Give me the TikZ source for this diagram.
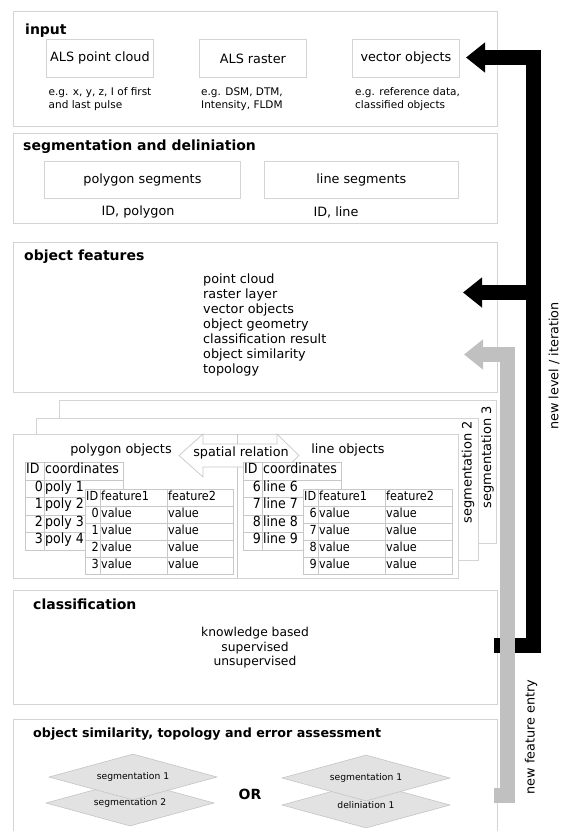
\documentclass[tikz,border=0pt]{standalone}
\usepackage{fontspec}
\setmainfont{DejaVu Sans}
\newfontfamily\condfam{DejaVu Sans Condensed}
\usetikzlibrary{arrows.meta,shapes.geometric}
\definecolor{pgray}{HTML}{D4D4D4}
\definecolor{tgray}{HTML}{C8C8C8}
\definecolor{agray}{HTML}{C0C0C0}
\definecolor{dfill}{HTML}{E2E2E2}
\definecolor{ddraw}{HTML}{C4C4C4}
\newcommand\myreg{\fontsize{12.8}{15}\selectfont}
\newcommand\mytitle{\fontsize{14}{16}\selectfont\bfseries}
\newcommand\mytitleb{\fontsize{12.7}{15}\selectfont\bfseries}
\newcommand\mysmall{\fontsize{10.5}{13}\selectfont}
\newcommand\mytabA{\condfam\fontsize{14}{16}\selectfont}
\newcommand\mytabB{\condfam\fontsize{12.5}{15}\selectfont}
\newcommand\mydia{\fontsize{9.2}{11}\selectfont}
\begin{document}
\begin{tikzpicture}[x=1pt,y=-1pt,
 panel/.style={draw=pgray,line width=0.8pt,fill=white,inner sep=0pt,anchor=north west},
 ibox/.style={draw=pgray,line width=0.8pt,fill=white,inner sep=0pt,anchor=north west,font=\myreg},
 lbl/.style={font=\myreg,inner sep=0pt},
 ttl/.style={font=\mytitle,anchor=west,inner sep=0pt},
 small/.style={font=\mysmall,align=left,anchor=west,inner sep=0pt},
 tline/.style={draw=tgray,line width=0.7pt},
 ca/.style={font=\mytabA,inner sep=0.5pt},
 cb/.style={font=\mytabB,inner sep=0.5pt},
 dia/.style={diamond,aspect=3.65,draw=ddraw,fill=dfill,line width=0.6pt,inner sep=0pt,minimum width=168pt,minimum height=46pt,font=\mydia},
 blk/.style={line width=15pt,line join=miter,-{Triangle[length=19pt,width=29pt]}},
]
\useasboundingbox[fill=white] (0,0) rectangle (562,831);

% ---------- input ----------
\node[panel,minimum width=484pt,minimum height=115pt] (input) at (12.5,10.5) {};
\node[ttl] (tin) at (25,31) {input};
\node[ibox,minimum width=107pt,minimum height=38pt] (als1) at (46,39) {ALS point cloud};
\node[ibox,minimum width=107pt,minimum height=38pt] (als2) at (199,39) {ALS raster};
\node[ibox,minimum width=107pt,minimum height=38pt] (vec) at (352,39) {vector objects};
\node[small] (eg1) at (48.5,99) {e.g. x, y, z, I of first\\and last pulse};
\node[small] (eg2) at (201,99) {e.g. DSM, DTM,\\Intensity, FLDM};
\node[small] (eg3) at (355,99) {e.g. reference data,\\classified objects};

% ---------- segmentation ----------
\node[panel,minimum width=484pt,minimum height=90pt] (seg) at (12.5,133) {};
\node[ttl] (tseg) at (23,147) {segmentation and deliniation};
\node[ibox,minimum width=196pt,minimum height=37pt] (pseg) at (44,161) {polygon segments};
\node[ibox,minimum width=194pt,minimum height=37pt] (lseg) at (264,161) {line segments};
\node[lbl] (idp) at (138,212) {ID, polygon};
\node[lbl] (idl) at (336,212) {ID, line};

% ---------- object features ----------
\node[panel,minimum width=484pt,minimum height=150pt] (objf) at (12.5,242) {};
\node[ttl] (tobjf) at (24,257) {object features};
\node[font=\myreg,align=left,anchor=north west,inner sep=0pt] (flist) at (203,273.5)
 {point cloud\\raster layer\\vector objects\\object geometry\\classification result\\object similarity\\topology};

% ---------- stacked segmentation sheets ----------
\node[panel,minimum width=437pt,minimum height=143pt] (sh3) at (59,400) {};
\node[lbl,font=\fontsize{13}{15}\selectfont,rotate=90,anchor=east] (s3) at (487.5,406) {segmentation 3};
\node[panel,minimum width=442pt,minimum height=142pt] (sh2) at (36,418) {};
\node[lbl,font=\fontsize{13}{15}\selectfont,rotate=90,anchor=east] (s2) at (468,421) {segmentation 2};
\node[panel,minimum width=445pt,minimum height=144pt] (sh1) at (13,434) {};
\coordinate (dvt) at (237,434);
\coordinate (dvb) at (237,578);
\draw[tline] (dvt) -- (dvb);

% spatial relation double arrow
\path[draw=tgray,fill=white,line width=0.7pt] (179,455.5) -- (203,434) -- (203,444) -- (277,444) -- (277,434)
  -- (299,455.5) -- (277,477) -- (277,467) -- (203,467) -- (203,477) -- cycle;
\node[lbl] (spr) at (241,453) {spatial relation};
\node[lbl] (pobj) at (121,450) {polygon objects};
\node[lbl] (lobj) at (348,450) {line objects};

% polygon coordinates table
\draw[tline,fill=white] (25,462) rectangle (123,550);
\draw[tline] (44,462) -- (44,550);
\foreach \y in {480,497.5,515,532.5} \draw[tline] (25,\y) -- (123,\y);
\node[ca,anchor=mid west] (pid) at (25.5,471) {ID};
\node[ca,anchor=mid west] (pco) at (44.5,471) {coordinates};
\foreach \d/\n/\y in {0/1/488.75,1/2/506.25,2/3/523.75,3/4/541.25}{
  \node[ca,anchor=mid east] (pa\d) at (43.5,\y) {\d};
  \node[ca,anchor=mid west] (pb\d) at (44.5,\y) {poly \n};
}
% polygon feature table
\draw[tline,fill=white] (85,489) rectangle (233,574);
\draw[tline] (100,489) -- (100,574);
\draw[tline] (167,489) -- (167,574);
\foreach \y in {506,523,540,557} \draw[tline] (85,\y) -- (233,\y);
\node[cb,anchor=mid west] (qid) at (85.5,497.5) {ID};
\node[cb,anchor=mid west] (qf1) at (100.5,497.5) {feature1};
\node[cb,anchor=mid west] (qf2) at (167.5,497.5) {feature2};
\foreach \d/\y in {0/514.5,1/531.5,2/548.5,3/565.5}{
  \node[cb,anchor=mid east] (qa\d) at (99.5,\y) {\d};
  \node[cb,anchor=mid west] (qb\d) at (100.5,\y) {value};
  \node[cb,anchor=mid west] (qc\d) at (167.5,\y) {value};
}
% line coordinates table
\draw[tline,fill=white] (243,462) rectangle (341,550);
\draw[tline] (262,462) -- (262,550);
\foreach \y in {480,497.5,515,532.5} \draw[tline] (243,\y) -- (341,\y);
\node[ca,anchor=mid west] (lid) at (243.5,471) {ID};
\node[ca,anchor=mid west] (lco) at (262.5,471) {coordinates};
\foreach \d/\y in {6/488.75,7/506.25,8/523.75,9/541.25}{
  \node[ca,anchor=mid east] (la\d) at (261.5,\y) {\d};
  \node[ca,anchor=mid west] (lb\d) at (262.5,\y) {line \d};
}
% line feature table
\draw[tline,fill=white] (303,489) rectangle (452,574);
\draw[tline] (318,489) -- (318,574);
\draw[tline] (385,489) -- (385,574);
\foreach \y in {506,523,540,557} \draw[tline] (303,\y) -- (452,\y);
\node[cb,anchor=mid west] (mid) at (303.5,497.5) {ID};
\node[cb,anchor=mid west] (mf1) at (318.5,497.5) {feature1};
\node[cb,anchor=mid west] (mf2) at (385.5,497.5) {feature2};
\foreach \d/\y in {6/514.5,7/531.5,8/548.5,9/565.5}{
  \node[cb,anchor=mid east] (ma\d) at (317.5,\y) {\d};
  \node[cb,anchor=mid west] (mb\d) at (318.5,\y) {value};
  \node[cb,anchor=mid west] (mc\d) at (385.5,\y) {value};
}

% ---------- classification ----------
\node[panel,minimum width=484pt,minimum height=114pt] (cls) at (12.5,590) {};
\node[ttl] (tcls) at (33,604) {classification};
\node[font=\fontsize{12.3}{14.5}\selectfont,align=center,inner sep=0pt] (clist) at (255,648)
 {knowledge based\\supervised\\unsupervised};

% ---------- object similarity ----------
\node[panel,minimum width=484pt,minimum height=130pt] (osim) at (12.5,719) {};
\node[ttl,font=\mytitleb] (tosim) at (33,734) {object similarity, topology and error assessment};
\node[dia] (d2) at (130,803) {segmentation 2};
\node[dia] (d1) at (133,777) {segmentation 1};
\node[dia] (d4) at (366,805) {deliniation 1};
\node[dia] (d3) at (366,778) {segmentation 1};
\node[font=\mytitle,inner sep=0pt] (or) at (250,794) {OR};

% ---------- feedback arrows ----------
\coordinate (bk0) at (494,645.5);
\coordinate (bk1) at (533.5,645.5);
\coordinate (bk2) at (533.5,57.5);
\coordinate (intip) at (466,57.5);
\coordinate (bkm) at (533.5,292.5);
\coordinate (oftip) at (463,292.5);
\draw[blk] (bk0) -- (bk1) -- (bk2) -- (intip);
\draw[blk] (bkm) -- (oftip);
\coordinate (gr0) at (494,795.5);
\coordinate (gr1) at (507.5,795.5);
\coordinate (gr2) at (507.5,354.5);
\coordinate (grtip) at (464,354.5);
\draw[blk,color=agray] (gr0) -- (gr1) -- (gr2) -- (grtip);
\node[lbl,rotate=90] (nli) at (554,366) {new level / iteration};
\node[lbl,rotate=90] (nfe) at (531,737) {new feature entry};
\end{tikzpicture}
\end{document}
